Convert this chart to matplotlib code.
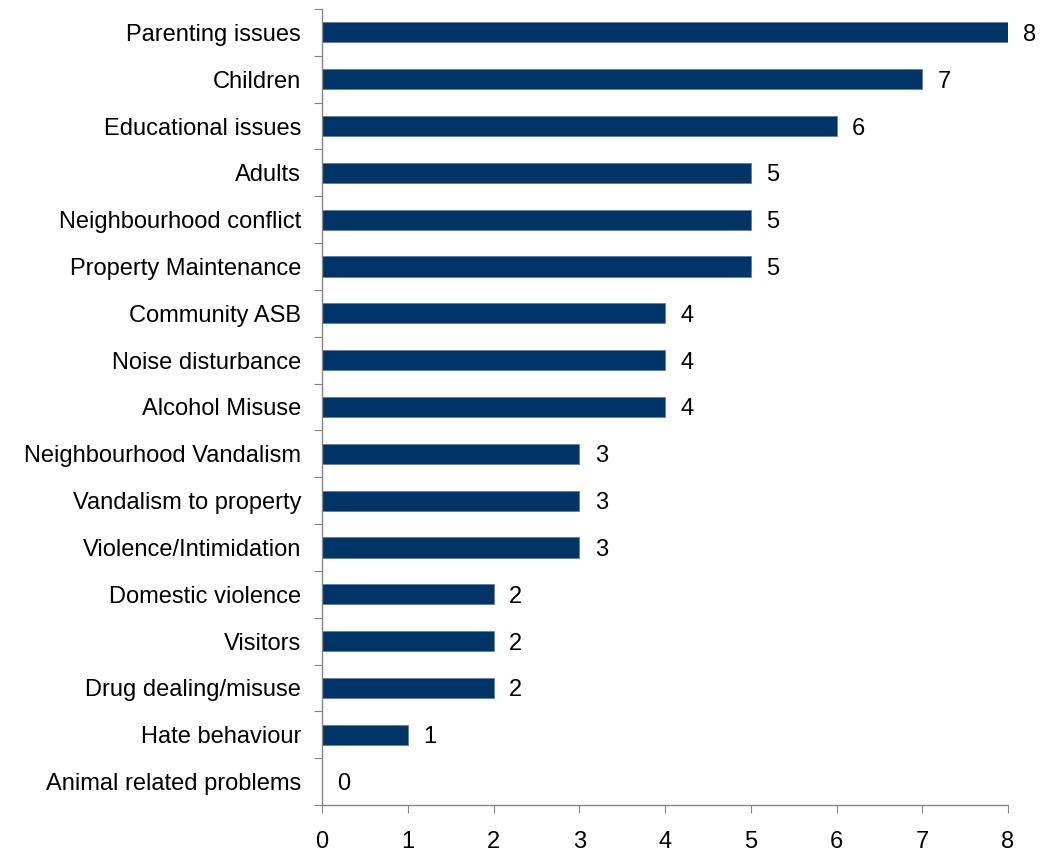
import matplotlib
matplotlib.use('Agg')
import matplotlib.pyplot as plt
import numpy as np

plt.rcParams['font.family'] = ['Liberation Sans', 'DejaVu Sans']

categories = [
    "Parenting issues", "Children", "Educational issues", "Adults",
    "Neighbourhood conflict", "Property Maintenance", "Community ASB",
    "Noise disturbance", "Alcohol Misuse", "Neighbourhood Vandalism",
    "Vandalism to property", "Violence/Intimidation", "Domestic violence",
    "Visitors", "Drug dealing/misuse", "Hate behaviour", "Animal related problems",
]
counts = [8, 7, 6, 5, 5, 5, 4, 4, 4, 3, 3, 3, 2, 2, 2, 1, 0]
x_ticks = [0, 1, 2, 3, 4, 5, 6, 7, 8]

bar_color = "#003366"
axis_color = "#868686"
fs = 17

fig = plt.figure(figsize=(10.51, 8.58), dpi=100)
ax = fig.add_axes([0.3064, 0.0618, 0.6527, 0.9277])

n = len(categories)
y = np.arange(n)[::-1]
ax.barh(y, counts, height=0.43, color=bar_color, edgecolor="#5f7fa3", linewidth=0.6)

for yi, v in zip(y, counts):
    ax.text(v + 0.18, yi, str(v), va="center_baseline", ha="left", fontsize=fs)

ax.set_xlim(0, 8)
ax.set_ylim(-0.5, n - 0.5)
ax.set_xticks(x_ticks)
ax.set_xticklabels([str(t) for t in x_ticks], fontsize=fs)

# category labels sit between the boundary ticks
ax.set_yticks(np.arange(n + 1) - 0.5)
ax.set_yticklabels([])
ax.set_yticks(y, minor=True)
ax.set_yticklabels(categories, minor=True, fontsize=fs)
ax.tick_params(axis="y", which="minor", length=0, pad=15)
ax.tick_params(axis="y", which="major", length=6, color=axis_color, direction="out")
ax.tick_params(axis="x", length=6, color=axis_color, direction="out", pad=13)

for side in ["top", "right"]:
    ax.spines[side].set_visible(False)
for side in ["left", "bottom"]:
    ax.spines[side].set_color(axis_color)
    ax.spines[side].set_linewidth(1.0)

fig.savefig("out.png", dpi=100)
